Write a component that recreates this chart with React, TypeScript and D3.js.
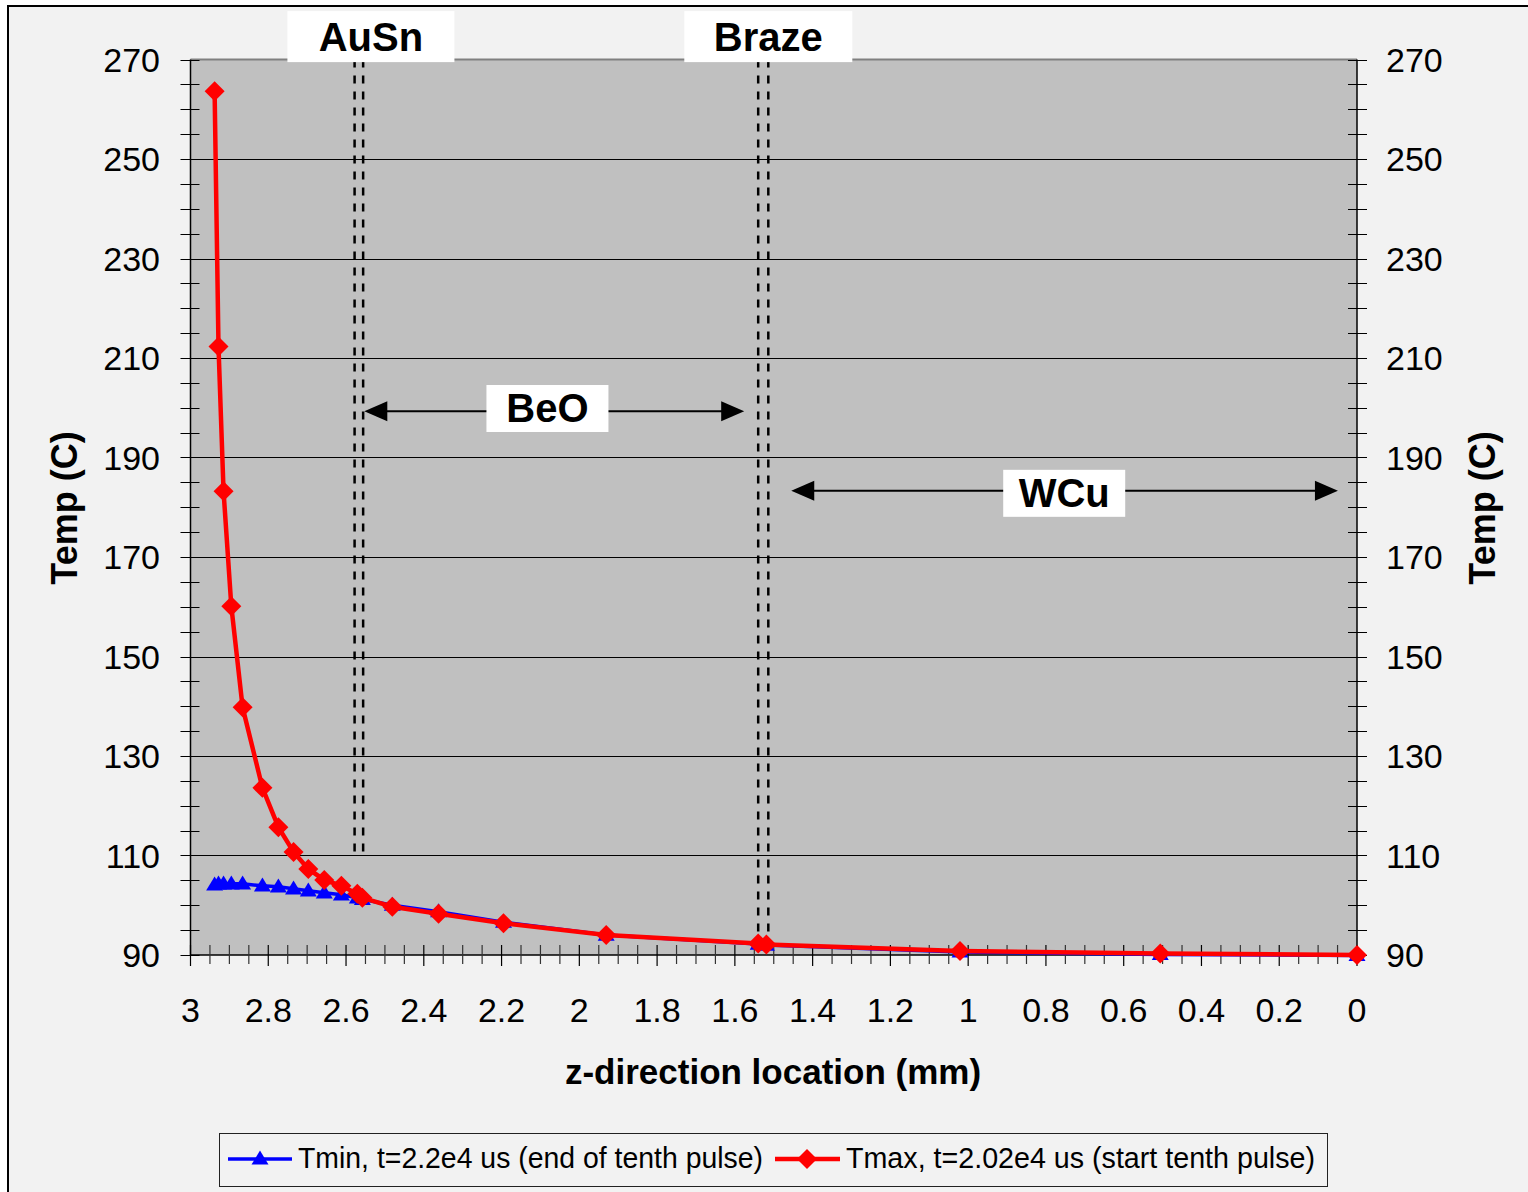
import React from "react";
import * as d3 from "d3";

// ---- data ----
const zLocations = [2.938, 2.928, 2.915, 2.895, 2.866, 2.815, 2.774, 2.735, 2.697, 2.656, 2.612, 2.571, 2.558, 2.481, 2.362, 2.195, 1.931, 1.540, 1.519, 1.021, 0.506, 0.0];
const tMin = [104.1, 104.3, 104.3, 104.3, 104.3, 103.9, 103.7, 103.3, 102.9, 102.5, 102.1, 101.5, 101.2, 100.0, 98.7, 96.6, 94.0, 92.2, 92.0, 90.6, 90.1, 89.9];
const tMax = [263.6, 212.3, 183.2, 160.1, 139.8, 123.6, 115.7, 110.7, 107.3, 105.1, 103.9, 102.3, 101.5, 99.7, 98.3, 96.4, 94.0, 92.3, 92.1, 90.8, 90.3, 90.0];
const yTickLabels = [90, 110, 130, 150, 170, 190, 210, 230, 250, 270];
const xTickLabels = [3, 2.8, 2.6, 2.4, 2.2, 2, 1.8, 1.6, 1.4, 1.2, 1, 0.8, 0.6, 0.4, 0.2, 0];
const seriesNames = ["Tmin, t=2.2e4 us (end of tenth pulse)", "Tmax, t=2.02e4 us (start tenth pulse)"];
const ausnLines = [2.578, 2.556];
const brazeLines = [1.540, 1.514];
const layerLabels = ["AuSn", "Braze", "BeO", "WCu"];

const W = 1528, H = 1192;
const M = { left: 190.5, right: 1357, top: 59.5, bottom: 955 };

export default function App() {
  const x = d3.scaleLinear().domain([3, 0]).range([M.left, M.right]);
  const y = d3.scaleLinear().domain([90, 270]).range([M.bottom, M.top]);

  const minorY = d3.range(90, 270.001, 5);
  const minorX = d3.range(0, 3.0001, 0.05);

  const line = d3.line<number>().x((_, i) => x(zLocations[i])).y((d) => y(d));

  const font = "'Liberation Sans', Arial, sans-serif";

  const diamond = (cx: number, cy: number, r: number) =>
    `M${cx},${cy - r}L${cx + r},${cy}L${cx},${cy + r}L${cx - r},${cy}Z`;
  const triangle = (cx: number, cy: number, w: number, h: number) =>
    `M${cx},${cy - h * 0.6}L${cx + w / 2},${cy + h * 0.4}L${cx - w / 2},${cy + h * 0.4}Z`;

  // annotation configuration (label centers in data coords, box sizes)
  const labelBoxes = [
    { text: layerLabels[0], cx: x(2.536), cy: y(274.6), w: 167, h: 51 },
    { text: layerLabels[1], cx: x(1.514), cy: y(274.6), w: 168, h: 51 },
    { text: layerLabels[2], cx: x(2.082), cy: y(199.85), w: 122, h: 47 },
    { text: layerLabels[3], cx: x(0.753), cy: y(182.8), w: 122, h: 47 },
  ];
  const arrows = [
    { x1: x(2.553), x2: x(1.576), yy: y(199.3) },
    { x1: x(1.455), x2: x(0.049), yy: y(183.3) },
  ];

  const arrowHead = (tipX: number, yy: number, dir: number) =>
    `M${tipX},${yy}L${tipX + dir * 23},${yy - 10}L${tipX + dir * 23},${yy + 10}Z`;

  return (
    <svg width={W} height={H} style={{ position: "absolute", left: 0, top: 0, background: "#ffffff" }}>
      {/* chart area background & border */}
      <rect x={8} y={6} width={W + 20} height={H + 20} fill="#f2f2f2" stroke="#000" strokeWidth={2} />
      {/* plot area */}
      <rect x={M.left} y={M.top} width={M.right - M.left} height={M.bottom - M.top} fill="#c0c0c0" />
      <line x1={M.left} x2={M.right} y1={M.top} y2={M.top} stroke="#808080" strokeWidth={2} />
      {/* gridlines */}
      {yTickLabels.slice(1, -1).map((v) => (
        <line key={"g" + v} x1={M.left} x2={M.right} y1={Math.round(y(v)) + 0.5} y2={Math.round(y(v)) + 0.5} stroke="#000" strokeWidth={1} />
      ))}
      {/* axes */}
      <line x1={M.left} x2={M.left} y1={M.top} y2={M.bottom} stroke="#000" strokeWidth={1.5} />
      <line x1={M.right} x2={M.right} y1={M.top} y2={M.bottom} stroke="#000" strokeWidth={1.5} />
      <line x1={M.left} x2={M.right} y1={M.bottom} y2={M.bottom} stroke="#000" strokeWidth={1.5} />
      {minorY.map((v) => (
        <g key={"yt" + v}>
          <line x1={M.left - 10} x2={M.left + 9} y1={Math.round(y(v)) + 0.5} y2={Math.round(y(v)) + 0.5} stroke="#000" strokeWidth={1} />
          <line x1={M.right - 9} x2={M.right + 10} y1={Math.round(y(v)) + 0.5} y2={Math.round(y(v)) + 0.5} stroke="#000" strokeWidth={1} />
        </g>
      ))}
      {minorX.map((v) => {
        const major = Math.abs(Math.round(v * 5) - v * 5) < 1e-6;
        return (
          <line key={"xt" + v.toFixed(2)} x1={x(v)} x2={x(v)} y1={M.bottom - 10} y2={M.bottom + (major ? 11 : 9)} stroke={major ? "#000" : "#333"} strokeWidth={1.2} />
        );
      })}
      {/* tick labels */}
      {yTickLabels.map((v) => (
        <g key={"yl" + v} fontFamily={font} fontSize={34} fill="#000">
          <text x={160} y={y(v) + 12} textAnchor="end">{v}</text>
          <text x={1386} y={y(v) + 12} textAnchor="start">{v}</text>
        </g>
      ))}
      {xTickLabels.map((v) => (
        <text key={"xl" + v} x={x(v)} y={1022} textAnchor="middle" fontFamily={font} fontSize={34} fill="#000">{v}</text>
      ))}
      {/* axis titles */}
      <text x={773} y={1084} textAnchor="middle" fontFamily={font} fontSize={35} fontWeight="bold">z-direction location (mm)</text>
      <text transform={`translate(77,508) rotate(-90)`} textAnchor="middle" fontFamily={font} fontSize={36} fontWeight="bold">Temp (C)</text>
      <text transform={`translate(1495,508) rotate(-90)`} textAnchor="middle" fontFamily={font} fontSize={36} fontWeight="bold">Temp (C)</text>

      {/* interface dashed lines */}
      {ausnLines.map((v) => (
        <line key={"au" + v} x1={x(v)} x2={x(v)} y1={M.top} y2={y(110)} stroke="#000" strokeWidth={2.5} strokeDasharray="8,8" />
      ))}
      {brazeLines.map((v) => (
        <line key={"br" + v} x1={x(v)} x2={x(v)} y1={M.top} y2={M.bottom} stroke="#000" strokeWidth={2.5} strokeDasharray="8,8" />
      ))}

      {/* arrows */}
      {arrows.map((a, i) => (
        <g key={"ar" + i}>
          <line x1={a.x1 + 10} x2={a.x2 - 10} y1={a.yy} y2={a.yy} stroke="#000" strokeWidth={2} />
          <path d={arrowHead(a.x1, a.yy, 1)} fill="#000" />
          <path d={arrowHead(a.x2, a.yy, -1)} fill="#000" />
        </g>
      ))}

      {/* series */}
      <path d={line(tMin) || ""} fill="none" stroke="#0000ff" strokeWidth={3.5} />
      {tMin.map((v, i) => (
        <path key={"tn" + i} d={triangle(x(zLocations[i]), y(v), 17, 14)} fill="#0000ff" />
      ))}
      <path d={line(tMax) || ""} fill="none" stroke="#ff0000" strokeWidth={4.5} />
      {tMax.map((v, i) => (
        <path key={"tx" + i} d={diamond(x(zLocations[i]), y(v), 10)} fill="#ff0000" />
      ))}

      {/* label boxes */}
      {labelBoxes.map((b) => (
        <g key={"lb" + b.text}>
          <rect x={b.cx - b.w / 2} y={b.cy - b.h / 2} width={b.w} height={b.h} fill="#ffffff" />
          <text x={b.cx} y={b.cy + 14} textAnchor="middle" fontFamily={font} fontSize={40} fontWeight="bold" fill="#000">{b.text}</text>
        </g>
      ))}

      {/* legend */}
      <rect x={219.5} y={1133.5} width={1108} height={53} fill="#f2f2f2" stroke="#222" strokeWidth={1} />
      <line x1={228} x2={292} y1={1159} y2={1159} stroke="#0000ff" strokeWidth={3.5} />
      <path d={triangle(260, 1159, 17, 14)} fill="#0000ff" />
      <text x={298} y={1168} fontFamily={font} fontSize={29} fill="#000" textLength={465} lengthAdjust="spacingAndGlyphs">{seriesNames[0]}</text>
      <line x1={775} x2={840} y1={1159} y2={1159} stroke="#ff0000" strokeWidth={4.5} />
      <path d={diamond(807, 1159, 10)} fill="#ff0000" />
      <text x={846} y={1168} fontFamily={font} fontSize={29} fill="#000" textLength={469} lengthAdjust="spacingAndGlyphs">{seriesNames[1]}</text>
    </svg>
  );
}
